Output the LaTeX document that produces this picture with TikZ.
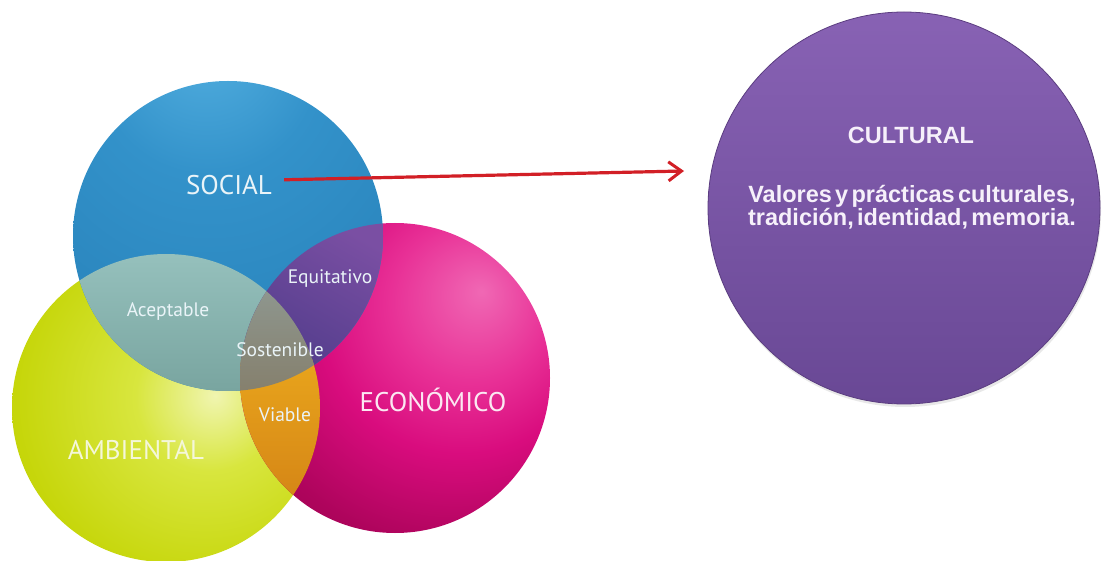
\documentclass[tikz,border=0pt]{standalone}
\usepackage{fontspec}
\setmainfont{PT Sans}
\newfontfamily\cultfont{Liberation Sans}
\usetikzlibrary{arrows.meta,shadows,fadings}

\definecolor{bhi}{HTML}{56B2E2}
\definecolor{bmid}{HTML}{3392CA}
\definecolor{bbase}{HTML}{2882BA}
\definecolor{bdark}{HTML}{1C6898}
\definecolor{ghi}{HTML}{F0F5B0}
\definecolor{gmid}{HTML}{D8E63E}
\definecolor{gbase}{HTML}{C6D60A}
\definecolor{gdark}{HTML}{AAB900}
\definecolor{mhi}{HTML}{F068B4}
\definecolor{mmid}{HTML}{E83096}
\definecolor{mbase}{HTML}{D90C7E}
\definecolor{mdark}{HTML}{AE045C}
\definecolor{mdeep}{HTML}{82003D}
\definecolor{acepTop}{HTML}{96C1BD}
\definecolor{acepBot}{HTML}{78A49F}
\definecolor{equiTop}{HTML}{7A4FA3}
\definecolor{equiBot}{HTML}{4C3A88}
\definecolor{viaTop}{HTML}{E8A41C}
\definecolor{viaBot}{HTML}{CF7C14}
\definecolor{sosTop}{HTML}{8E968E}
\definecolor{sosBot}{HTML}{857F6C}
\definecolor{cultTop}{HTML}{8862B4}
\definecolor{cultBot}{HTML}{694895}
\definecolor{cultEdge}{HTML}{5B3D80}
\definecolor{arrowred}{HTML}{D21F26}
\definecolor{txtblue}{HTML}{EAF4F8}
\definecolor{txtgreen}{HTML}{F4F7DA}
\definecolor{txtmag}{HTML}{FBE8F2}
\definecolor{txtcult}{HTML}{F6F0FA}

\pgfdeclareradialshading{blueball}{\pgfpoint{-4bp}{34bp}}{color(0bp)=(bhi); color(18bp)=(bmid); color(45bp)=(bbase); color(80bp)=(bdark); color(100bp)=(bdark)}
\pgfdeclareradialshading{greenball}{\pgfpoint{8bp}{2bp}}{color(0bp)=(ghi); color(12bp)=(gmid); color(30bp)=(gbase); color(55bp)=(gdark); color(100bp)=(gdark)}
\pgfdeclareradialshading{magball}{\pgfpoint{14bp}{14bp}}{color(0bp)=(mhi); color(13bp)=(mmid); color(23bp)=(mbase); color(36bp)=(mdark); color(55bp)=(mdeep); color(100bp)=(mdeep)}

\newcommand\tightspaces{\spaceskip=0.14em\relax}

\tikzset{
  lbl/.style={text=txtblue, inner sep=2pt},
  biglbl/.style={lbl, font=\fontsize{27}{30}\selectfont},
  smalllbl/.style={lbl, font=\fontsize{19.5}{22}\selectfont},
  culttxt/.style={text=txtcult, font=\cultfont\bfseries\fontsize{23.5}{23}\selectfont, align=center, inner sep=0pt},
  redarrow/.style={draw=arrowred, line width=3.2pt, -{Straight Barb[length=13pt,width=19pt,line width=3pt]}},
}

\begin{document}
\begin{tikzpicture}[x=1pt,y=-1pt]
\useasboundingbox (0,0) rectangle (1104,561);
\fill[white] (0,0) rectangle (1104,561);

% balls
\shade[shading=greenball] (166,408) circle[radius=154];
\shade[shading=magball] (395,378) circle[radius=155];
\shade[shading=blueball] (228,236) circle[radius=155];

% overlaps
\begin{scope}
  \clip (228,236) circle[radius=155];
  \clip (166,408) circle[radius=154];
  \shade[top color=acepTop, bottom color=acepBot] (60,250) rectangle (340,395);
\end{scope}
\begin{scope}
  \clip (228,236) circle[radius=155];
  \clip (395,378) circle[radius=155];
  \shade[top color=equiTop, bottom color=equiBot, shading angle=-30] (235,218) rectangle (390,395);
\end{scope}
\begin{scope}
  \clip (166,408) circle[radius=154];
  \clip (395,378) circle[radius=155];
  \shade[top color=viaTop, bottom color=viaBot] (235,360) rectangle (330,545);
  \clip (228,236) circle[radius=155];
  \shade[top color=sosTop, bottom color=sosBot] (235,290) rectangle (335,395);
\end{scope}

% labels
\node[biglbl] (social) at (229,185) {SOCIAL};
\node[biglbl, text=txtgreen] (ambiental) at (136,450) {AMBIENTAL};
\node[biglbl, text=txtmag] (economico) at (433,400) {ECONÓMICO};
\node[smalllbl] (aceptable) at (168,312) {Aceptable};
\node[smalllbl] (equitativo) at (330,279) {Equitativo};
\node[smalllbl] (sostenible) at (280,350) {Sostenible};
\node[smalllbl] (viable) at (285,415) {Viable};

% cultural circle
\node[circle, minimum size=392pt, inner sep=0pt, draw=cultEdge, line width=0.8pt,
      top color=cultTop, bottom color=cultBot,
      drop shadow={opacity=0.18, shadow xshift=1pt, shadow yshift=-3pt}] (cultural) at (904,208) {};
\node[culttxt] (culttitle) at (911,135) {CULTURAL};
\node[culttxt] (cultbody) at (912,207) {\tightspaces Valores y prácticas culturales,\\\tightspaces tradición, identidad, memoria.};

% arrow
\coordinate (tip) at (684,171);
\draw[redarrow, shorten <=10pt] ([yshift=5pt]social.east) -- (tip);
\end{tikzpicture}
\end{document}
